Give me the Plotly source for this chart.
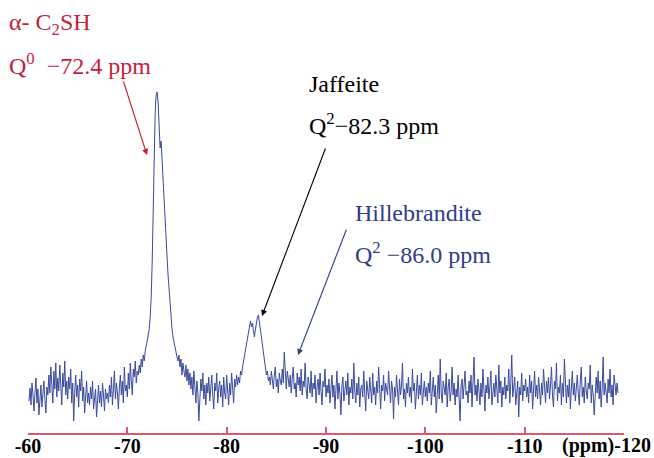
import numpy as np
import plotly.graph_objects as go

# ---- data (intensity in arbitrary units, sampled every 0.1 ppm from -60.1 ppm) ----
start_ppm = -60.1
step_ppm = -0.1

baseline_left = [32, 45, 28, 50, 38, 22, 40, 55, 30, 44, 18, 36, 48, 26, 42, 52, 34, 20, 46, 38,
                 58, 40, 66, 48, 30, 62, 44, 70, 36, 55, 42, 68, 50, 28, 60, 46, 72, 38, 52, 34,
                 56, 44, 64, 30, 50, 12, 40, 58, 36, 48, 26, 54, 42, 62, 32, 46, 20, 44, 52, 30,
                 40, 28, 46, 34, 52, 24, 38, 44, 16, 36, 48, 30, 42, 26, 50, 38, 22, 44, 34, 40,
                 30, 48, 36, 56, 28, 44, 62, 34, 50, 40, 24, 46, 58, 38, 52, 30, 66, 42, 48, 36,
                 60, 44, 70, 52, 38, 64, 56, 72, 50, 62]
main_peak = [58, 68, 60, 74, 66, 78, 72, 82, 86, 92,
             98, 104, 116, 135, 170, 225, 280, 320, 338, 341,
             330, 298, 285, 292, 270, 250, 232, 212, 195, 176,
             158, 142, 128, 118, 104, 96, 90, 84, 80, 76,
             72, 78]
mid_region = [66, 74, 58, 70, 62, 56, 68, 52, 64, 48,
              60, 44, 56, 38, 62, 46, 30, 52, 40, 12,
              36, 54, 42, 60, 34, 48, 28, 50, 40, 56,
              32, 46, 58, 38, 24, 50, 42, 60, 30, 44,
              52, 36, 48, 26, 56, 40, 34, 58, 44, 28,
              50, 38, 60, 42, 30, 54, 46, 58]
jaffeite_peak = [48, 56, 50, 62, 58, 66, 72, 80, 86, 92,
                 98, 104, 108, 112, 106, 110, 102, 96, 104, 112,
                 116, 118, 112, 104, 96, 88, 80, 72, 64, 58,
                 62, 52]
baseline_right = [56, 48, 62, 50, 44, 58, 66, 46, 54, 40, 60, 52, 48, 64, 50, 81, 58, 44, 62, 50,
                  46, 58, 40, 54, 66, 44, 50, 36, 60, 48, 56, 42, 64, 38, 52, 46, 70, 44, 34, 56,
                  48, 40, 62, 36, 50, 44, 58, 30, 46, 54, 38, 60, 42, 28, 52, 46, 64, 36, 48, 40,
                  54, 30, 44, 58, 36, 48, 24, 42, 62, 34, 50, 40, 18, 46, 56, 32, 44, 52, 38, 60,
                  28, 46, 40, 54, 34, 70, 42, 30, 50, 38, 56, 26, 44, 48, 36, 62, 40, 22, 52, 44,
                  34, 56, 42, 30, 60, 38, 46, 28, 52, 40, 66, 36, 24, 48, 42, 58, 32, 50, 44, 38,
                  62, 40, 30, 52, 44, 14, 46, 36, 58, 42, 28, 54, 38, 48, 70, 34, 44, 26, 50, 40,
                  56, 36, 46, 30, 64, 42, 50, 24, 40, 58, 34, 48, 38, 60, 28, 44, 52, 36, 46, 32,
                  50, 40, 62, 28, 44, 56, 36, 48, 20, 42, 58, 34, 74, 40, 30, 52, 44, 38, 60, 26,
                  46, 54, 32, 42, 66, 38, 50, 28, 44, 36, 58, 40, 12, 48, 54, 34, 46, 62, 38, 42,
                  30, 52, 40, 58, 26, 46, 76, 38, 48, 32, 54, 42, 28, 50, 36, 64, 44, 22, 48, 40,
                  56, 34, 46, 62, 28, 42, 50, 36, 58, 44, 30, 68, 40, 52, 26, 46, 38, 56, 34, 48,
                  42, 64, 30, 50, 78, 36, 44, 56, 28, 40, 52, 16, 46, 38, 60, 32, 48, 42, 54, 36,
                  46, 30, 58, 40, 52, 24, 44, 62, 36, 48, 34, 56, 42, 28, 50, 38, 64, 44, 30, 52,
                  40, 56, 34, 48, 66, 38, 26, 52, 44, 70, 32, 46, 40, 58, 28, 50, 36, 74, 42, 30,
                  48, 36, 54, 24, 46, 62, 38, 50, 32, 44, 58, 40, 28, 52, 66, 36, 46, 30, 56, 42,
                  34, 50, 44, 68, 30, 48, 38, 18, 46, 56, 40, 62, 34, 52, 26, 44, 76, 38, 50, 42,
                  30, 54, 40, 64, 36, 48, 28, 58, 44, 38, 50, 40]

tick_values = [-60, -70, -80, -90, -100, -110, -120]
tick_labels = ["-60", "-70", "-80", "-90", "-100", "-110", ""]

intensity = baseline_left + main_peak + mid_region + jaffeite_peak + baseline_right
ppm = np.round(start_ppm + step_ppm * np.arange(len(intensity)), 1)

# ---- layout geometry ----
W, H = 654, 458
ML, MR, MT, MB = 28, 30, 0, 25
PW, PH = W - ML - MR, H - MT - MB
Y_MAX = 433


def px(xp):
    return (xp - ML) / PW


def py(yp):
    return (H - MB - yp) / PH


SERIF = "Liberation Serif, Times New Roman, serif"
RED = "#c41e3a"
NAVY = "#2e3c8a"
AXIS = "#d9596e"

fig = go.Figure()
fig.add_trace(go.Scatter(x=ppm, y=intensity, mode="lines",
                         line=dict(color="#3a4a9c", width=1), hoverinfo="skip",
                         showlegend=False))

annotations = []


def label(text, xp, yp, color, size=24):
    annotations.append(dict(text=text, x=px(xp), y=py(yp), xref="paper", yref="paper",
                            xanchor="left", yanchor="middle", showarrow=False,
                            font=dict(family=SERIF, size=size, color=color)))


label("α- C<sub>2</sub>SH", 7, 24, RED)
label("Q<sup>0</sup>  −72.4 ppm", 7, 64, RED)
label("Jaffeite", 307, 84, "black")
label("Q<sup>2</sup>−82.3 ppm", 307, 124, "black")
label("Hillebrandite", 353, 213, NAVY)
label("Q<sup>2</sup> −86.0 ppm", 353, 253, NAVY)


def arrow(head, tail, color):
    annotations.append(dict(text="", x=px(head[0]), y=py(head[1]), xref="paper", yref="paper",
                            ax=tail[0] - head[0], ay=tail[1] - head[1],
                            showarrow=True, arrowhead=2, arrowsize=1.1, arrowwidth=1.1,
                            arrowcolor=color))


arrow((147, 155), (123, 80), RED)
arrow((262, 316), (326, 147), "black")
arrow((298, 355), (347, 228), NAVY)

annotations.append(dict(text="<b>(ppm)-120</b>", x=px(653), y=py(445), xref="paper", yref="paper",
                        xanchor="right", yanchor="middle", showarrow=False,
                        font=dict(family=SERIF, size=20, color="black")))

fig.update_layout(
    width=W, height=H,
    margin=dict(l=ML, r=MR, t=MT, b=MB, pad=0, autoexpand=False),
    paper_bgcolor="white", plot_bgcolor="white",
    annotations=annotations,
    xaxis=dict(range=[-60, -120], tickvals=tick_values, ticktext=tick_labels, automargin=False,
               showgrid=False, zeroline=False, showline=True, linecolor=AXIS, linewidth=1.5,
               ticks="inside", ticklen=6, tickcolor=AXIS, tickwidth=1.5, ticklabelstandoff=-6,
               tickfont=dict(family=SERIF, size=20, color="black", weight="bold")),
    yaxis=dict(range=[0, Y_MAX], visible=False, automargin=False),
)

fig.write_html("out.html")
